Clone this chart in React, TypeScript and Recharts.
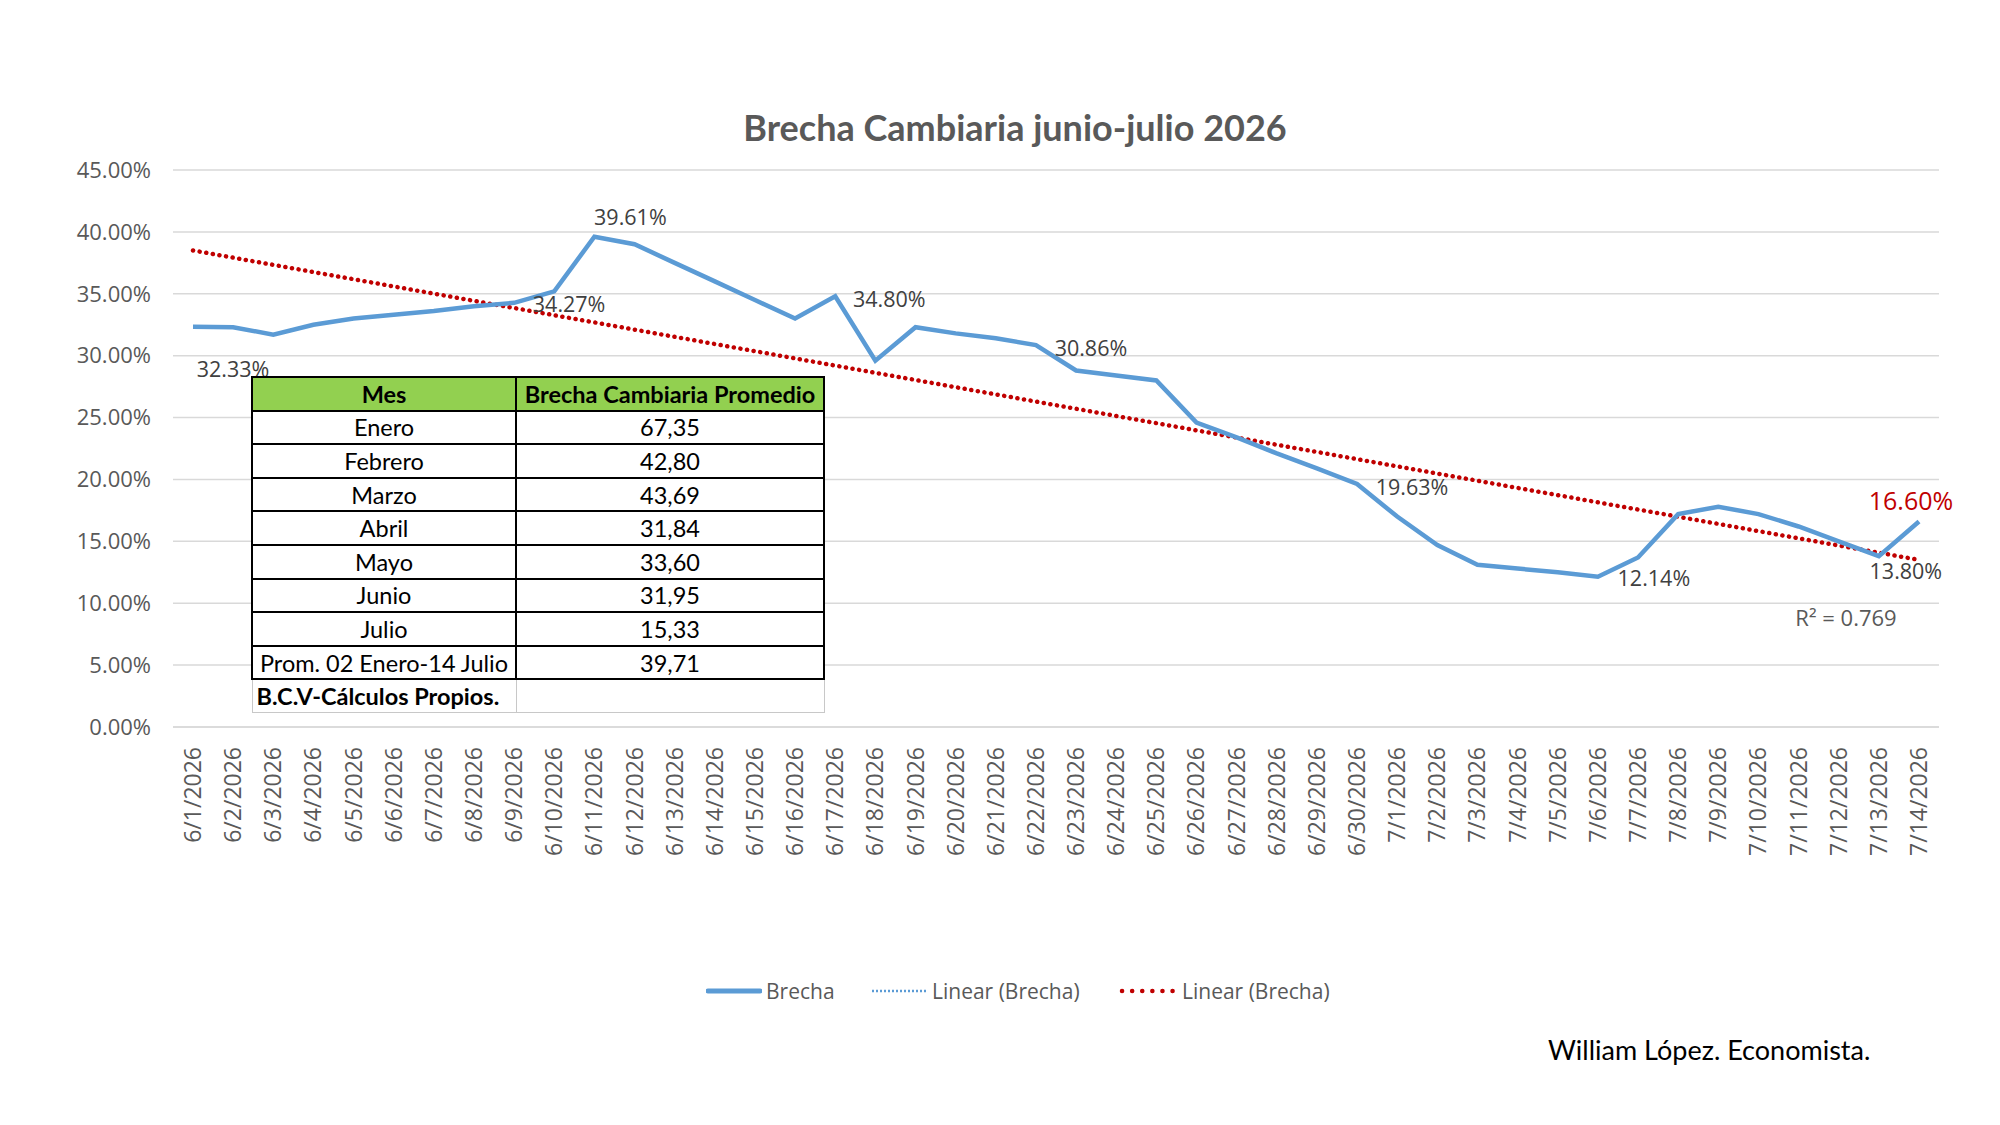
import React from 'react';
import { LineChart, Line, XAxis, YAxis, CartesianGrid, ReferenceLine, LabelList } from 'recharts';

const dates = [
  '6/1/2026','6/2/2026','6/3/2026','6/4/2026','6/5/2026','6/6/2026','6/7/2026','6/8/2026','6/9/2026','6/10/2026',
  '6/11/2026','6/12/2026','6/13/2026','6/14/2026','6/15/2026','6/16/2026','6/17/2026','6/18/2026','6/19/2026','6/20/2026',
  '6/21/2026','6/22/2026','6/23/2026','6/24/2026','6/25/2026','6/26/2026','6/27/2026','6/28/2026','6/29/2026','6/30/2026',
  '7/1/2026','7/2/2026','7/3/2026','7/4/2026','7/5/2026','7/6/2026','7/7/2026','7/8/2026','7/9/2026','7/10/2026',
  '7/11/2026','7/12/2026','7/13/2026','7/14/2026',
];
const brecha = [
  32.33, 32.3, 31.7, 32.5, 33.0, 33.3, 33.6, 34.0, 34.27, 35.2,
  39.61, 39.0, 37.5, 36.0, 34.5, 33.0, 34.8, 29.6, 32.3, 31.8,
  31.4, 30.86, 28.8, 28.4, 28.0, 24.6, 23.4, 22.1, 20.9, 19.63,
  17.0, 14.7, 13.1, 12.8, 12.5, 12.14, 13.7, 17.2, 17.8, 17.2,
  16.2, 15.0, 13.8, 16.6,
];
const trendStart = 38.5;
const trendEnd = 13.5;
const rSquared = '0.769';
const yTicks = [0, 5, 10, 15, 20, 25, 30, 35, 40, 45];
const labeledIdx = [0, 8, 10, 16, 21, 29, 35, 42, 43];

const tableMonths = ['Enero', 'Febrero', 'Marzo', 'Abril', 'Mayo', 'Junio', 'Julio', 'Prom. 02 Enero-14 Julio'];
const tableValues = ['67,35', '42,80', '43,69', '31,84', '33,60', '31,95', '15,33', '39,71'];

const data = dates.map((d, i) => ({ date: d, brecha: brecha[i] }));

const LABEL_OFFSETS: Record<number, [number, number]> = {
  0: [40, 42],
  8: [55, 1],
  10: [36, -20],
  16: [54, 2],
  21: [55, 2],
  29: [55, 2],
  35: [56, 1],
  42: [27, 14],
  43: [-8, -22],
};

const SANS = '"Open Sans", sans-serif';
const CAL = 'Lato, sans-serif';

const XTick = (props: any) => {
  const { x, y, payload } = props;
  return (
    <text
      x={0}
      y={0}
      transform={`translate(${x + 8},${y + 12}) rotate(-90)`}
      textAnchor="end"
      fontFamily={SANS}
      fontSize={23}
      fill="#595959"
    >
      {payload.value}
    </text>
  );
};

const DataLabel = (props: any) => {
  const { x, y, index, value } = props;
  if (!labeledIdx.includes(index)) return null;
  const off = LABEL_OFFSETS[index] || [0, -20];
  const last = index === dates.length - 1;
  return (
    <text
      x={x + off[0]}
      y={y + off[1]}
      textAnchor="middle"
      dominantBaseline="central"
      fontFamily={SANS}
      fontSize={last ? 25 : 21.5}
      fill={last ? '#c00000' : '#404040'}
    >
      {`${Number(value).toFixed(2)}%`}
    </text>
  );
};

export default function App() {
  const rowH = 33.6;
  const cellBase: React.CSSProperties = {
    height: rowH,
    boxSizing: 'border-box',
    textAlign: 'center',
    fontFamily: CAL,
    fontSize: 23.5,
    lineHeight: '28px',
    color: '#000',
    padding: 0,
    whiteSpace: 'nowrap',
  };
  const thick = '2px solid #000';
  return (
    <div style={{ position: 'absolute', left: 0, top: 0, width: 2000, height: 1125, background: '#fff', overflow: 'hidden' }}>
      <div style={{ position: 'absolute', left: 0, top: 107, width: 2030, textAlign: 'center', fontFamily: CAL, fontWeight: 700, fontSize: 36, lineHeight: '40px', color: '#595959' }}>
        Brecha Cambiaria junio-julio 2026
      </div>
      <LineChart width={2000} height={1125} data={data} margin={{ top: 170, right: 61, left: 0, bottom: 278 }}>
        <CartesianGrid vertical={false} stroke="#d9d9d9" strokeWidth={1.5} />
        <XAxis
          dataKey="date"
          interval={0}
          height={120}
          padding={{ left: 20, right: 20 }}
          tick={<XTick />}
          tickLine={false}
          axisLine={{ stroke: '#d9d9d9', strokeWidth: 1.5 }}
        />
        <YAxis
          width={173}
          domain={[0, 45]}
          ticks={yTicks}
          interval={0}
          tickFormatter={(v: number) => `${v.toFixed(2)}%`}
          tick={{ fontFamily: SANS, fontSize: 22, fill: '#595959' }}
          tickLine={false}
          axisLine={false}
          tickMargin={16}
        />
        <ReferenceLine
          segment={[{ x: dates[0], y: trendStart }, { x: dates[dates.length - 1], y: trendEnd }]}
          stroke="#c00000"
          strokeWidth={4.5}
          strokeDasharray="0.1 6.6"
          strokeLinecap="round"
          ifOverflow="extendDomain"
        />
        <Line
          type="linear"
          dataKey="brecha"
          stroke="#5b9bd5"
          strokeWidth={4.5}
          dot={false}
          activeDot={false}
          isAnimationActive={false}
        >
          <LabelList dataKey="brecha" content={<DataLabel />} />
        </Line>
      </LineChart>

      <div style={{ position: 'absolute', left: 1846, top: 617, transform: 'translate(-50%,-50%)', fontFamily: SANS, fontSize: 22, color: '#595959', whiteSpace: 'nowrap' }}>
        R² = {rSquared}
      </div>

      <table style={{ position: 'absolute', left: 251, top: 376, width: 572, borderCollapse: 'collapse', background: '#fff', tableLayout: 'fixed' }}>
        <colgroup>
          <col style={{ width: 264 }} />
          <col style={{ width: 308 }} />
        </colgroup>
        <tbody>
          <tr>
            <td style={{ ...cellBase, background: '#92d050', fontWeight: 700, border: thick }}>Mes</td>
            <td style={{ ...cellBase, background: '#92d050', fontWeight: 700, border: thick }}>Brecha Cambiaria Promedio</td>
          </tr>
          {tableMonths.map((m, i) => (
            <tr key={m}>
              <td style={{ ...cellBase, border: thick }}>{m}</td>
              <td style={{ ...cellBase, border: thick }}>{tableValues[i]}</td>
            </tr>
          ))}
          <tr>
            <td style={{ ...cellBase, fontWeight: 700, textAlign: 'left', paddingLeft: 4, borderLeft: '1px solid #c8c8c8', borderBottom: '1px solid #c8c8c8', borderTop: thick }}>B.C.V-Cálculos Propios.</td>
            <td style={{ ...cellBase, borderLeft: '1px solid #c8c8c8', borderRight: '1px solid #c8c8c8', borderBottom: '1px solid #c8c8c8', borderTop: thick }}></td>
          </tr>
        </tbody>
      </table>

      <div style={{ position: 'absolute', left: 0, top: 975, width: 2000, height: 32, fontFamily: SANS, fontSize: 21, color: '#595959' }}>
        <svg style={{ position: 'absolute', left: 706, top: 8 }} width={56} height={16}>
          <line x1={2} y1={8} x2={54} y2={8} stroke="#5b9bd5" strokeWidth={5} strokeLinecap="round" />
        </svg>
        <span style={{ position: 'absolute', left: 766, top: 0, lineHeight: '32px' }}>Brecha</span>
        <svg style={{ position: 'absolute', left: 870, top: 8 }} width={60} height={16}>
          <line x1={2} y1={8} x2={56} y2={8} stroke="#5b9bd5" strokeWidth={2.5} strokeDasharray="2 2" />
        </svg>
        <span style={{ position: 'absolute', left: 932, top: 0, lineHeight: '32px' }}>Linear (Brecha)</span>
        <svg style={{ position: 'absolute', left: 1118, top: 8 }} width={62} height={16}>
          <line x1={4} y1={8} x2={58} y2={8} stroke="#c00000" strokeWidth={4.5} strokeDasharray="0.1 10" strokeLinecap="round" />
        </svg>
        <span style={{ position: 'absolute', left: 1182, top: 0, lineHeight: '32px' }}>Linear (Brecha)</span>
      </div>

      <div style={{ position: 'absolute', left: 1548, top: 1033, fontFamily: CAL, fontSize: 27, color: '#000', whiteSpace: 'nowrap' }}>
        William López. Economista.
      </div>
    </div>
  );
}
